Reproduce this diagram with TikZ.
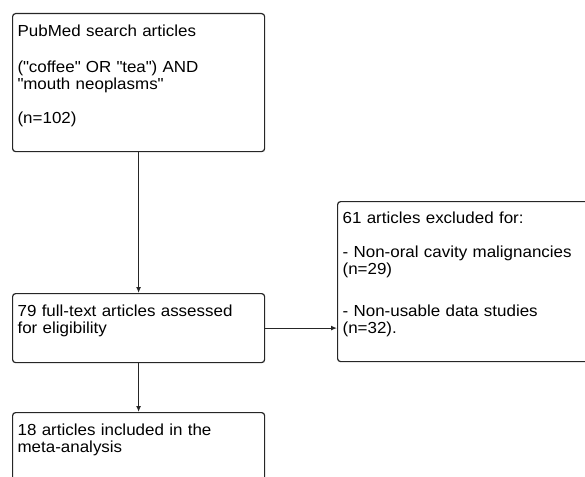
\documentclass[tikz,border=0pt]{standalone}
\usepackage{fontspec}
\setmainfont{Liberation Sans}[FakeStretch=1.06]
\usetikzlibrary{arrows.meta}
\tikzset{
  flowbox/.style={draw=black!85, line width=1.2pt, rounded corners=3pt,
    anchor=north west, align=left, inner xsep=5pt, inner ysep=0pt,
    font=\fontsize{16}{17}\selectfont},
  flowarrow/.style={draw=black!85, line width=1.2pt, -{Latex[length=6pt,width=5pt]}}
}
\newcommand\dq{\textquotedbl}
\begin{document}
\begin{tikzpicture}[x=1pt,y=-1pt]
  \useasboundingbox (0,0) rectangle (585,476);
  \clip (0,0) rectangle (585,476);
  \node[flowbox, text width=242pt, text height=23pt, text depth=115pt] (search) at (12,13)
    {PubMed search articles\\[19pt](\dq coffee\dq{} OR \dq tea\dq) AND\\\dq mouth neoplasms\dq\\[17pt](n=102)};
  \node[flowbox, text width=242pt, text height=23pt, text depth=46pt] (assessed) at (12,293)
    {79 full-text articles assessed\\for eligibility};
  \node[flowbox, text width=253pt, text height=22pt, text depth=138pt] (excluded) at (337,201)
    {61 articles excluded for:\\[17pt]- Non-oral cavity malignancies\\(n=29)\\[25pt]- Non-usable data studies\\(n=32).};
  \node[flowbox, text width=242pt, text height=23pt, text depth=65pt] (included) at (12,412)
    {18 articles included in the\\meta-analysis};

  \draw[flowarrow] (search) -- (assessed);
  \draw[flowarrow] (assessed) -- (included);
  \draw[flowarrow] (assessed.east) -- (assessed.east -| excluded.west);
\end{tikzpicture}
\end{document}
